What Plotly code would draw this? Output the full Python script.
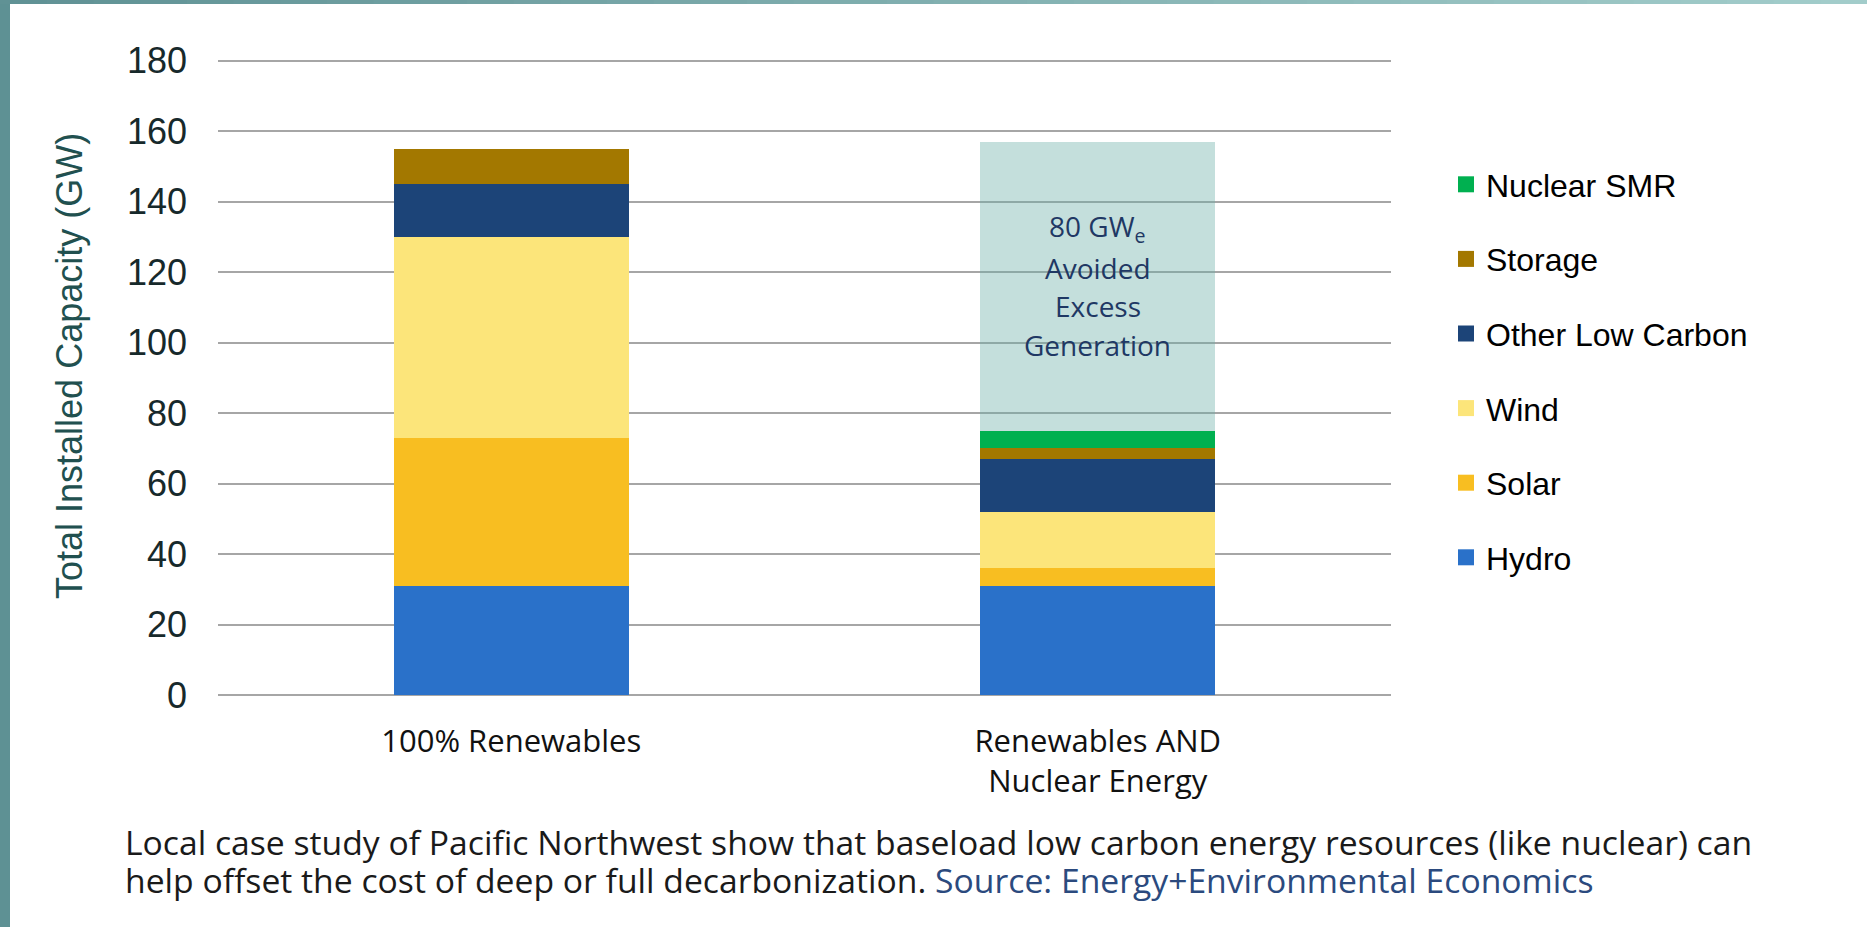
import plotly.graph_objects as go

# ---------------- data ----------------
categories = ["100% Renewables", "Renewables AND<br>Nuclear Energy"]
hydro = [31, 31]
solar = [42, 5]
wind = [57, 16]
other_low_carbon = [15, 15]
storage = [10, 3]
nuclear_smr = [0, 5]
avoided_excess = [0, 82]

series_names = ["Hydro", "Solar", "Wind", "Other Low Carbon", "Storage", "Nuclear SMR"]
series_values = [hydro, solar, wind, other_low_carbon, storage, nuclear_smr]
series_colors = ["#2a71c9", "#f8be21", "#fce57a", "#1c4478", "#a37800", "#00b050"]

y_ticks = [0, 20, 40, 60, 80, 100, 120, 140, 160, 180]
box_lines = ["80 GW<sub>e</sub>", "Avoided", "Excess", "Generation"]

W, H = 1867, 927
ML, MR, MT, MB = 218, 476, 59, 232
YMAX = 180.5

fig = go.Figure()

for name, vals, col in zip(series_names, series_values, series_colors):
    fig.add_trace(go.Bar(x=categories, y=vals, name=name, marker=dict(color=col, line=dict(width=0)),
                         showlegend=False))

fig.add_trace(go.Bar(x=categories, y=avoided_excess, name="Avoided Excess Generation",
                     marker=dict(color="rgba(108,175,168,0.40)", line=dict(width=0)),
                     showlegend=False))

# legend entries (top to bottom)
for name, col in reversed(list(zip(series_names, series_colors))):
    fig.add_trace(go.Scatter(x=[None], y=[None], mode="markers", name=name,
                             marker=dict(symbol="square", size=16, color=col),
                             legendgroup=name, showlegend=True))

font_main = "Liberation Sans, Arial, sans-serif"
font_alt = "Open Sans, sans-serif"

pw = W - ML - MR
ph = H - MT - MB

fig.update_layout(
    width=W, height=H,
    barmode="stack", bargap=0.6,
    margin=dict(l=ML, r=MR, t=MT, b=MB, autoexpand=False),
    paper_bgcolor="white", plot_bgcolor="white",
    showlegend=True,
    legend=dict(xref="container", yref="container", x=1446 / W, y=1 - 157 / H,
                xanchor="left", yanchor="top", traceorder="grouped", tracegroupgap=30,
                font=dict(family=font_main, size=32, color="#000000"),
                bgcolor="rgba(0,0,0,0)"),
    xaxis=dict(showgrid=False, showline=False, ticks="", zeroline=False,
               tickfont=dict(family=font_alt, size=31, color="#111111"),
               ticklabelstandoff=25),
    yaxis=dict(range=[0, YMAX], tickvals=y_ticks, showgrid=True, gridcolor="#a6a6a6", gridwidth=1.5,
               zeroline=True, zerolinecolor="#a6a6a6", zerolinewidth=1.5, showline=False, ticks="",
               tickfont=dict(family=font_main, size=36, color="#17292b"),
               ticklabelstandoff=30),
)

# y-axis title
fig.add_annotation(x=(70 - ML) / pw, y=(H - MB - 366) / ph, xref="paper", yref="paper",
                   text="Total Installed Capacity (GW)", textangle=-90, showarrow=False,
                   xanchor="center", yanchor="middle",
                   font=dict(family=font_main, size=36, color="#21504f"))

# text inside the avoided-excess box (one annotation per line)
box_line_y = [132.6, 121.1, 110.3, 99.4]
for txt, yy in zip(box_lines, box_line_y):
    fig.add_annotation(x=categories[1], y=yy, xref="x", yref="y", text=txt,
                       showarrow=False, xanchor="center", yanchor="middle",
                       font=dict(family=font_alt, size=28, color="#1f3864"))

# footer text
fig.add_annotation(x=(123 - ML) / pw, y=(H - MB - 842) / ph,
                   xref="paper", yref="paper", xanchor="left", yanchor="middle", showarrow=False,
                   text="Local case study of Pacific Northwest show that baseload low carbon energy resources (like nuclear) can",
                   font=dict(family=font_alt, size=33.7, color="#1a1a1a"), align="left")
fig.add_annotation(x=(123 - ML) / pw, y=(H - MB - 880) / ph,
                   xref="paper", yref="paper", xanchor="left", yanchor="middle", showarrow=False,
                   text="help offset the cost of deep or full decarbonization. <span style='color:#2b4a7e'>Source: Energy+Environmental Economics</span>",
                   font=dict(family=font_alt, size=33.7, color="#1a1a1a"), align="left")

# decorative frame: left strip and gradient top strip
shapes = []
shapes.append(dict(type="rect", xref="paper", yref="paper", xsizemode="pixel", ysizemode="pixel",
                   xanchor=0, yanchor=1, x0=-ML, x1=-ML + 10, y0=-(ph + MB + 5), y1=MT + 5,
                   fillcolor="#5e9194", line=dict(width=0), layer="above"))
c0 = (95, 145, 148)
c1 = (163, 205, 203)
N = 40
seg = W / N
for i in range(N):
    t = (i + 0.5) / N
    c = tuple(int(round(a + (b - a) * t)) for a, b in zip(c0, c1))
    shapes.append(dict(type="rect", xref="paper", yref="paper", xsizemode="pixel", ysizemode="pixel",
                       xanchor=0, yanchor=1, x0=-ML + i * seg, x1=-ML + (i + 1) * seg + 1,
                       y0=MT - 4, y1=MT + 5,
                       fillcolor="rgb(%d,%d,%d)" % c, line=dict(width=0), layer="above"))
fig.update_layout(shapes=shapes)

fig.write_html("out.html")
